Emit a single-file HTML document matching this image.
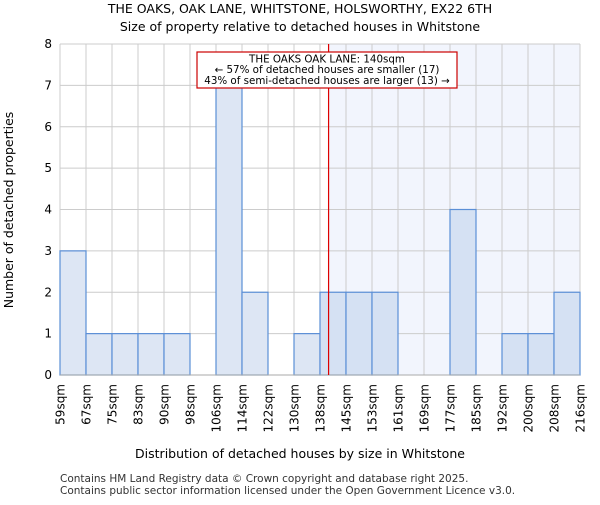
<!DOCTYPE html>
<html><head><meta charset="utf-8"><style>
body{margin:0;background:#fff}
svg{font-family:"DejaVu Sans","Liberation Sans",sans-serif}
</style></head><body>
<svg id="c" width="600" height="500" xmlns="http://www.w3.org/2000/svg">
<text x="300" y="13" text-anchor="middle" font-size="12.5">THE OAKS, OAK LANE, WHITSTONE, HOLSWORTHY, EX22 6TH</text>
<text x="300" y="31" text-anchor="middle" font-size="12.5">Size of property relative to detached houses in Whitstone</text>
<g id="plot"></g>
<text x="300" y="458" text-anchor="middle" font-size="12.5">Distribution of detached houses by size in Whitstone</text>
<text transform="translate(13,210) rotate(-90)" text-anchor="middle" font-size="12.5">Number of detached properties</text>
<text x="60" y="482" font-size="10.5" fill="#333">Contains HM Land Registry data © Crown copyright and database right 2025.</text>
<text x="60" y="494" font-size="10.5" fill="#333">Contains public sector information licensed under the Open Government Licence v3.0.</text>
</svg>
<script>
const categories=["59sqm","67sqm","75sqm","83sqm","90sqm","98sqm","106sqm","114sqm","122sqm","130sqm","138sqm","145sqm","153sqm","161sqm","169sqm","177sqm","185sqm","192sqm","200sqm","208sqm","216sqm"];
const counts=[3,1,1,1,1,0,7,2,0,1,2,2,2,0,0,4,0,1,1,2];
const yTicks=[0,1,2,3,4,5,6,7,8];
const markerIndex=10.33;
const NS="http://www.w3.org/2000/svg";
const g=document.getElementById('plot');
const x0=60,x1=580,yTop=44,yBot=375,nb=counts.length;
const bw=(x1-x0)/nb;
const xs=i=>x0+i*bw;
const ys=v=>yBot-(v/8)*(yBot-yTop);
function mk(t,a){const e=document.createElementNS(NS,t);for(const k in a)e.setAttribute(k,a[k]);g.appendChild(e);return e;}
const mx=xs(markerIndex);
let e=mk('rect',{x:mx,y:yTop,width:x1-mx,height:yBot-yTop,fill:'#f2f5fd'});


yTicks.forEach(v=>{
 let l=mk('line',{x1:x0,x2:x1,y1:ys(v),y2:ys(v),stroke:'#ccc','stroke-width':1});
 
 
 let t=mk('text',{x:x0-8,y:ys(v)+4,'text-anchor':'end','font-size':12});
 t.textContent=v;
 
 
});
for(let i=0;i<=nb;i++){
 let l=mk('line',{x1:xs(i),x2:xs(i),y1:yTop,y2:yBot,stroke:'#ccc','stroke-width':1});
 
 
}
counts.forEach((c,i)=>{
 if(c<=0)return;
 let r=mk('rect',{x:xs(i),y:ys(c),width:bw,height:yBot-ys(c),fill:(i>=markerIndex-0.5?'#d5e1f3':'#dde6f4'),stroke:'#5b8fd6','stroke-width':1.2});
 
 
});
let ax=mk('line',{x1:x0,x2:x1,y1:yBot,y2:yBot,stroke:'#aaa','stroke-width':1});


categories.forEach((c,i)=>{
 let t=mk('text',{transform:`translate(${xs(i)+4.5},384) rotate(-90)`,'text-anchor':'end','font-size':12});
 t.textContent=c;
 
 
});
let ml=mk('line',{x1:mx,x2:mx,y1:yTop,y2:yBot,stroke:'#d00','stroke-width':1.2});


let box=mk('rect',{x:197,y:52,width:260,height:36,fill:'#fff',stroke:'#c00','stroke-width':1.2});


["THE OAKS OAK LANE: 140sqm","← 57% of detached houses are smaller (17)","43% of semi-detached houses are larger (13) →"].forEach((s,k)=>{
 let t=mk('text',{x:327,y:62.5+k*10.7,'text-anchor':'middle','font-size':10.3});
 t.textContent=s;
 
 
});
</script>
</body></html>
